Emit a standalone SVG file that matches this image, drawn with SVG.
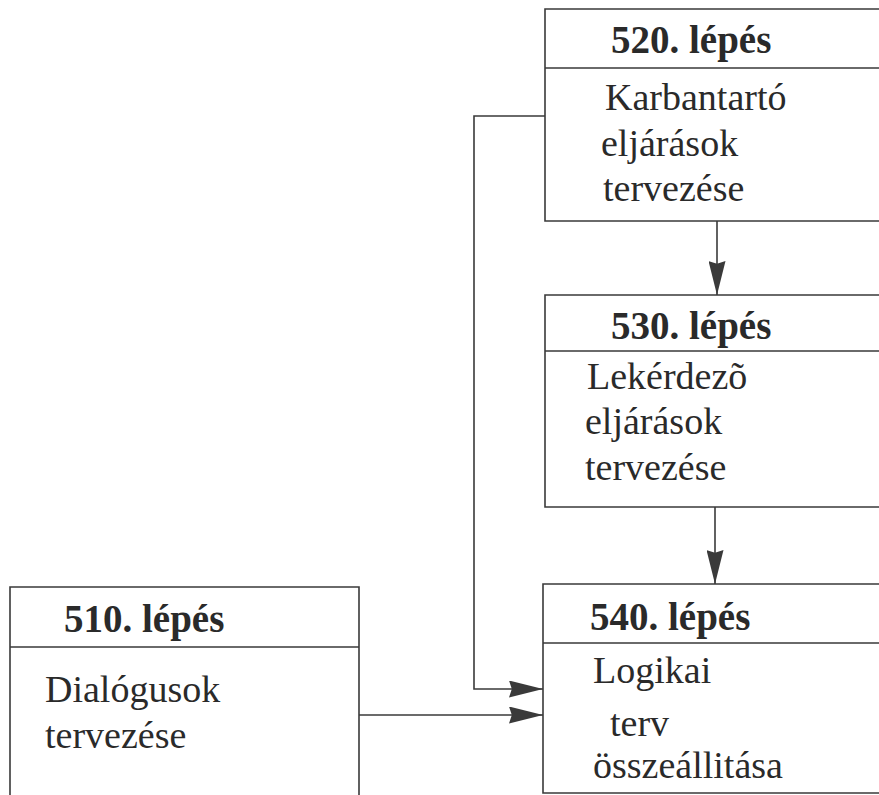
<svg xmlns="http://www.w3.org/2000/svg" width="879" height="795" viewBox="0 0 879 795">
  <style>
    .box { fill: none; stroke: #3a3a3a; stroke-width: 1.6; }
    .wire { fill: none; stroke: #3a3a3a; stroke-width: 1.6; }
    .head { font-family: "Liberation Serif", "Times New Roman", serif; font-weight: bold; font-size: 39px; fill: #2a2a2a; }
    .body { font-family: "Liberation Serif", "Times New Roman", serif; font-size: 38px; fill: #2a2a2a; }
  </style>
  <defs>
    <marker id="arrow" viewBox="0 0 36 18" refX="36" refY="9" markerWidth="34" markerHeight="17" markerUnits="userSpaceOnUse" orient="auto">
      <path d="M0,0 L36,9 L0,18 L3,9 Z" fill="#3a3a3a"/>
    </marker>
  </defs>
  <rect width="879" height="795" fill="#ffffff"/>

  <!-- connectors -->
  <g id="connectors">
    <path class="wire" d="M545,116 H474 V689 H543" marker-end="url(#arrow)"/>
    <path class="wire" d="M359,715 H543" marker-end="url(#arrow)"/>
    <path class="wire" d="M717,221 V295" marker-end="url(#arrow)"/>
    <path class="wire" d="M715,507 V584" marker-end="url(#arrow)"/>
  </g>

  <!-- step 520 -->
  <g id="step520">
    <path class="box" d="M890,9 H545 V221 H890 M545,68 H890"/>
    <text class="head" x="611" y="53">520. lépés</text>
    <text class="body" x="605" y="110">Karbantartó</text>
    <text class="body" x="601" y="156">eljárások</text>
    <text class="body" x="603" y="201">tervezése</text>
  </g>

  <!-- step 530 -->
  <g id="step530">
    <path class="box" d="M890,295 H545 V507 H890 M545,351 H890"/>
    <text class="head" x="611" y="339">530. lépés</text>
    <text class="body" x="587" y="389">Lekérdezõ</text>
    <text class="body" x="585" y="434">eljárások</text>
    <text class="body" x="585" y="480">tervezése</text>
  </g>

  <!-- step 510 -->
  <g id="step510">
    <path class="box" d="M10,800 V587 H359 V800 M10,647 H359"/>
    <text class="head" x="64" y="632">510. lépés</text>
    <text class="body" x="45" y="702">Dialógusok</text>
    <text class="body" x="45" y="748">tervezése</text>
  </g>

  <!-- step 540 -->
  <g id="step540">
    <path class="box" d="M890,584 H543 V793 H890 M543,643 H890"/>
    <text class="head" x="590" y="630">540. lépés</text>
    <text class="body" x="593" y="683">Logikai</text>
    <text class="body" x="610" y="736">terv</text>
    <text class="body" x="593" y="778">összeállitása</text>
  </g>
</svg>
